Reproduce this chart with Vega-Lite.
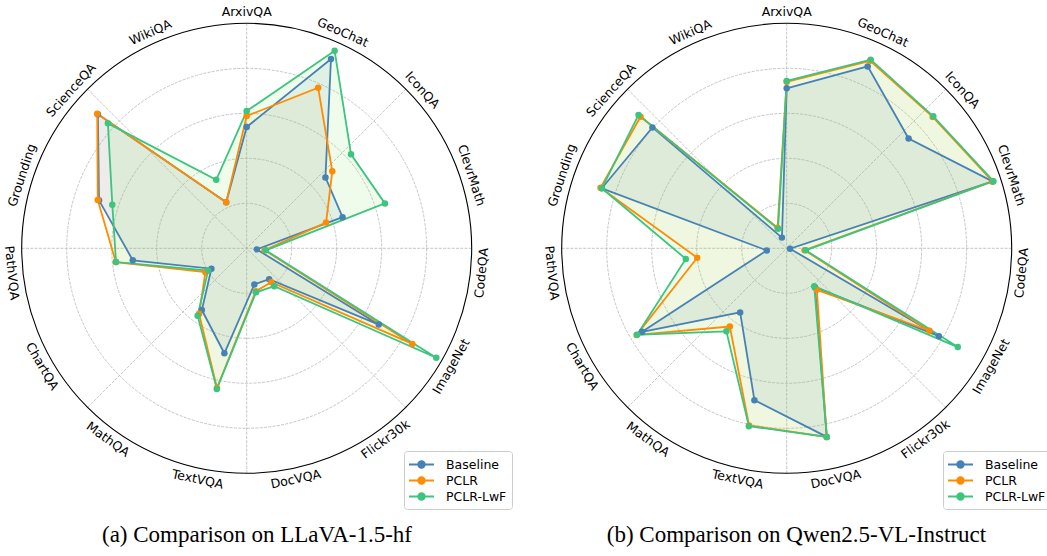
{
  "$schema": "https://vega.github.io/schema/vega-lite/v6.json",
  "background": "white",
  "padding": 0,
  "spacing": 0,
  "config": {"view": {"stroke": null}},
  "datasets": {
    "tasks": [
      {"task": "ArxivQA", "k": 0}, {"task": "GeoChat", "k": 1}, {"task": "IconQA", "k": 2},
      {"task": "ClevrMath", "k": 3}, {"task": "CodeQA", "k": 4}, {"task": "ImageNet", "k": 5},
      {"task": "Flickr30k", "k": 6}, {"task": "DocVQA", "k": 7}, {"task": "TextVQA", "k": 8},
      {"task": "MathQA", "k": 9}, {"task": "ChartQA", "k": 10}, {"task": "PathVQA", "k": 11},
      {"task": "Grounding", "k": 12}, {"task": "ScienceQA", "k": 13}, {"task": "WikiQA", "k": 14}
    ],
    "llava": [
      {"model": "Baseline", "task": "ArxivQA", "score": 0.539},
      {"model": "Baseline", "task": "GeoChat", "score": 0.921},
      {"model": "Baseline", "task": "IconQA", "score": 0.471},
      {"model": "Baseline", "task": "ClevrMath", "score": 0.448},
      {"model": "Baseline", "task": "CodeQA", "score": 0.045},
      {"model": "Baseline", "task": "ImageNet", "score": 0.678},
      {"model": "Baseline", "task": "Flickr30k", "score": 0.170},
      {"model": "Baseline", "task": "DocVQA", "score": 0.164},
      {"model": "Baseline", "task": "TextVQA", "score": 0.477},
      {"model": "Baseline", "task": "MathQA", "score": 0.339},
      {"model": "Baseline", "task": "ChartQA", "score": 0.181},
      {"model": "Baseline", "task": "PathVQA", "score": 0.509},
      {"model": "Baseline", "task": "Grounding", "score": 0.690},
      {"model": "Baseline", "task": "ScienceQA", "score": 0.890},
      {"model": "Baseline", "task": "WikiQA", "score": 0.224},
      {"model": "PCLR", "task": "ArxivQA", "score": 0.588},
      {"model": "PCLR", "task": "GeoChat", "score": 0.781},
      {"model": "PCLR", "task": "IconQA", "score": 0.512},
      {"model": "PCLR", "task": "ClevrMath", "score": 0.371},
      {"model": "PCLR", "task": "CodeQA", "score": 0.080},
      {"model": "PCLR", "task": "ImageNet", "score": 0.850},
      {"model": "PCLR", "task": "Flickr30k", "score": 0.186},
      {"model": "PCLR", "task": "DocVQA", "score": 0.195},
      {"model": "PCLR", "task": "TextVQA", "score": 0.635},
      {"model": "PCLR", "task": "MathQA", "score": 0.360},
      {"model": "PCLR", "task": "ChartQA", "score": 0.212},
      {"model": "PCLR", "task": "PathVQA", "score": 0.585},
      {"model": "PCLR", "task": "Grounding", "score": 0.696},
      {"model": "PCLR", "task": "ScienceQA", "score": 0.894},
      {"model": "PCLR", "task": "WikiQA", "score": 0.224},
      {"model": "PCLR-LwF", "task": "ArxivQA", "score": 0.610},
      {"model": "PCLR-LwF", "task": "GeoChat", "score": 0.961},
      {"model": "PCLR-LwF", "task": "IconQA", "score": 0.624},
      {"model": "PCLR-LwF", "task": "ClevrMath", "score": 0.646},
      {"model": "PCLR-LwF", "task": "CodeQA", "score": 0.085},
      {"model": "PCLR-LwF", "task": "ImageNet", "score": 0.973},
      {"model": "PCLR-LwF", "task": "Flickr30k", "score": 0.208},
      {"model": "PCLR-LwF", "task": "DocVQA", "score": 0.200},
      {"model": "PCLR-LwF", "task": "TextVQA", "score": 0.639},
      {"model": "PCLR-LwF", "task": "MathQA", "score": 0.371},
      {"model": "PCLR-LwF", "task": "ChartQA", "score": 0.198},
      {"model": "PCLR-LwF", "task": "PathVQA", "score": 0.584},
      {"model": "PCLR-LwF", "task": "Grounding", "score": 0.628},
      {"model": "PCLR-LwF", "task": "ScienceQA", "score": 0.830},
      {"model": "PCLR-LwF", "task": "WikiQA", "score": 0.333}
    ],
    "qwen": [
      {"model": "Baseline", "task": "ArxivQA", "score": 0.711},
      {"model": "Baseline", "task": "GeoChat", "score": 0.885},
      {"model": "Baseline", "task": "IconQA", "score": 0.729},
      {"model": "Baseline", "task": "ClevrMath", "score": 0.962},
      {"model": "Baseline", "task": "CodeQA", "score": 0.015},
      {"model": "Baseline", "task": "ImageNet", "score": 0.781},
      {"model": "Baseline", "task": "Flickr30k", "score": 0.215},
      {"model": "Baseline", "task": "DocVQA", "score": 0.857},
      {"model": "Baseline", "task": "TextVQA", "score": 0.690},
      {"model": "Baseline", "task": "MathQA", "score": 0.352},
      {"model": "Baseline", "task": "ChartQA", "score": 0.742},
      {"model": "Baseline", "task": "PathVQA", "score": 0.089},
      {"model": "Baseline", "task": "Grounding", "score": 0.864},
      {"model": "Baseline", "task": "ScienceQA", "score": 0.803},
      {"model": "Baseline", "task": "WikiQA", "score": 0.052},
      {"model": "PCLR", "task": "ArxivQA", "score": 0.740},
      {"model": "PCLR", "task": "GeoChat", "score": 0.912},
      {"model": "PCLR", "task": "IconQA", "score": 0.873},
      {"model": "PCLR", "task": "ClevrMath", "score": 0.962},
      {"model": "PCLR", "task": "CodeQA", "score": 0.080},
      {"model": "PCLR", "task": "ImageNet", "score": 0.733},
      {"model": "PCLR", "task": "Flickr30k", "score": 0.228},
      {"model": "PCLR", "task": "DocVQA", "score": 0.857},
      {"model": "PCLR", "task": "TextVQA", "score": 0.805},
      {"model": "PCLR", "task": "MathQA", "score": 0.430},
      {"model": "PCLR", "task": "ChartQA", "score": 0.770},
      {"model": "PCLR", "task": "PathVQA", "score": 0.400},
      {"model": "PCLR", "task": "Grounding", "score": 0.870},
      {"model": "PCLR", "task": "ScienceQA", "score": 0.874},
      {"model": "PCLR", "task": "WikiQA", "score": 0.100},
      {"model": "PCLR-LwF", "task": "ArxivQA", "score": 0.744},
      {"model": "PCLR-LwF", "task": "GeoChat", "score": 0.918},
      {"model": "PCLR-LwF", "task": "IconQA", "score": 0.877},
      {"model": "PCLR-LwF", "task": "ClevrMath", "score": 0.966},
      {"model": "PCLR-LwF", "task": "CodeQA", "score": 0.085},
      {"model": "PCLR-LwF", "task": "ImageNet", "score": 0.878},
      {"model": "PCLR-LwF", "task": "Flickr30k", "score": 0.208},
      {"model": "PCLR-LwF", "task": "DocVQA", "score": 0.857},
      {"model": "PCLR-LwF", "task": "TextVQA", "score": 0.808},
      {"model": "PCLR-LwF", "task": "MathQA", "score": 0.456},
      {"model": "PCLR-LwF", "task": "ChartQA", "score": 0.768},
      {"model": "PCLR-LwF", "task": "PathVQA", "score": 0.451},
      {"model": "PCLR-LwF", "task": "Grounding", "score": 0.864},
      {"model": "PCLR-LwF", "task": "ScienceQA", "score": 0.886},
      {"model": "PCLR-LwF", "task": "WikiQA", "score": 0.095}
    ]
  },
  "resolve": {"scale": {"color": "independent", "x": "independent", "y": "independent", "size": "independent"}, "legend": {"color": "independent"}},
  "hconcat": [
    {
      "width": 540, "height": 515,
      "title": {"text": "(a) Comparison on LLaVA-1.5-hf", "orient": "bottom", "offset": 9, "dx": -13, "font": "Liberation Serif", "fontSize": 23, "fontWeight": "normal", "color": "#000000"},
      "layer": [
        {"data": {"values": [{}]}, "mark": {"type": "rule", "color": "#b8b8b8", "strokeWidth": 0.8, "strokeDash": [3, 1.3]},
         "encoding": {"x": {"datum": 0, "type": "quantitative", "scale": {"domain": [-1.0964, 1.3036], "nice": false, "zero": false}, "axis": null},
                      "y": {"datum": -1, "type": "quantitative", "scale": {"domain": [-1.1853, 1.1036], "nice": false, "zero": false}, "axis": null},
                      "y2": {"datum": 1}}},
        {"data": {"values": [{}]}, "mark": {"type": "rule", "color": "#b8b8b8", "strokeWidth": 0.8, "strokeDash": [3, 1.3]},
         "encoding": {"x": {"datum": -1, "type": "quantitative", "scale": {"domain": [-1.0964, 1.3036], "nice": false, "zero": false}, "axis": null},
                      "x2": {"datum": 1},
                      "y": {"datum": 0, "type": "quantitative", "scale": {"domain": [-1.1853, 1.1036], "nice": false, "zero": false}, "axis": null}}},
        {"data": {"values": [{}]}, "mark": {"type": "rule", "color": "#b8b8b8", "strokeWidth": 0.8, "strokeDash": [3, 1.3]},
         "encoding": {"x": {"datum": -0.70711, "type": "quantitative", "scale": {"domain": [-1.0964, 1.3036], "nice": false, "zero": false}, "axis": null},
                      "x2": {"datum": 0.70711},
                      "y": {"datum": -0.70711, "type": "quantitative", "scale": {"domain": [-1.1853, 1.1036], "nice": false, "zero": false}, "axis": null},
                      "y2": {"datum": 0.70711}}},
        {"data": {"values": [{}]}, "mark": {"type": "rule", "color": "#b8b8b8", "strokeWidth": 0.8, "strokeDash": [3, 1.3]},
         "encoding": {"x": {"datum": -0.70711, "type": "quantitative", "scale": {"domain": [-1.0964, 1.3036], "nice": false, "zero": false}, "axis": null},
                      "x2": {"datum": 0.70711},
                      "y": {"datum": 0.70711, "type": "quantitative", "scale": {"domain": [-1.1853, 1.1036], "nice": false, "zero": false}, "axis": null},
                      "y2": {"datum": -0.70711}}},
        {"data": {"values": [{"ring": 0.2}, {"ring": 0.4}, {"ring": 0.6}, {"ring": 0.8}]},
         "mark": {"type": "point", "shape": "circle", "filled": false, "color": "#b8b8b8", "strokeWidth": 0.8, "strokeDash": [3, 1.3], "opacity": 1},
         "encoding": {"x": {"datum": 0, "type": "quantitative", "scale": {"domain": [-1.0964, 1.3036], "nice": false, "zero": false}, "axis": null},
                      "y": {"datum": 0, "type": "quantitative", "scale": {"domain": [-1.1853, 1.1036], "nice": false, "zero": false}, "axis": null},
                      "size": {"field": "ring", "type": "quantitative", "scale": {"type": "pow", "exponent": 2, "domain": [0, 1], "range": [0, 202500]}, "legend": null}}},
        {"data": {"values": [{"ring": 1}]},
         "mark": {"type": "point", "shape": "circle", "filled": false, "color": "#000000", "strokeWidth": 1.1, "opacity": 1},
         "encoding": {"x": {"datum": 0, "type": "quantitative", "scale": {"domain": [-1.0964, 1.3036], "nice": false, "zero": false}, "axis": null},
                      "y": {"datum": 0, "type": "quantitative", "scale": {"domain": [-1.1853, 1.1036], "nice": false, "zero": false}, "axis": null},
                      "size": {"field": "ring", "type": "quantitative", "scale": {"type": "pow", "exponent": 2, "domain": [0, 1], "range": [0, 202500]}, "legend": null}}},
        {"data": {"name": "llava"},
         "transform": [
           {"lookup": "task", "from": {"data": {"name": "tasks"}, "key": "task", "fields": ["k"]}},
           {"calculate": "datum.k * 2 * PI / 15", "as": "th"},
           {"calculate": "datum.score * sin(datum.th)", "as": "px"},
           {"calculate": "datum.score * cos(datum.th)", "as": "py"}
         ],
         "encoding": {
           "x": {"field": "px", "type": "quantitative", "scale": {"domain": [-1.0964, 1.3036], "nice": false, "zero": false}, "axis": null},
           "y": {"field": "py", "type": "quantitative", "scale": {"domain": [-1.1853, 1.1036], "nice": false, "zero": false}, "axis": null}
         },
         "layer": [
           {"transform": [{"filter": "datum.model == 'Baseline'"}],
            "mark": {"type": "line", "interpolate": "linear-closed", "fill": "#4682b4", "fillOpacity": 0.1, "strokeWidth": 0, "strokeOpacity": 0},
            "encoding": {"order": {"field": "k", "type": "quantitative"}}},
           {"transform": [{"filter": "datum.model == 'PCLR'"}],
            "mark": {"type": "line", "interpolate": "linear-closed", "fill": "#ff8c00", "fillOpacity": 0.05, "strokeWidth": 0, "strokeOpacity": 0},
            "encoding": {"order": {"field": "k", "type": "quantitative"}}},
           {"transform": [{"filter": "datum.model == 'PCLR-LwF'"}],
            "mark": {"type": "line", "interpolate": "linear-closed", "fill": "#96eb78", "fillOpacity": 0.15, "strokeWidth": 0, "strokeOpacity": 0},
            "encoding": {"order": {"field": "k", "type": "quantitative"}}},
           {"mark": {"type": "line", "interpolate": "linear-closed", "strokeWidth": 1.8},
            "encoding": {"order": {"field": "k", "type": "quantitative"},
                         "color": {"field": "model", "type": "nominal", "scale": {"domain": ["Baseline", "PCLR", "PCLR-LwF"], "range": ["#4682b4", "#ff8c00", "#3dc47e"]},
                                   "legend": {"title": null, "orient": "none", "legendX": 404, "legendY": 451, "direction": "vertical",
                                              "symbolType": "M-1.667,0H1.667M-0.44,0A0.44,0.44,0,1,0,0.44,0A0.44,0.44,0,1,0,-0.44,0Z", "symbolSize": 225, "symbolStrokeWidth": 1.8, "symbolOffset": 4,
                                              "labelFont": "DejaVu Sans", "labelFontSize": 12.5, "labelColor": "#000000", "labelOffset": 16,
                                              "fillColor": "white", "strokeColor": "#cccccc", "cornerRadius": 3, "padding": 5, "rowPadding": 0}}}},
           {"mark": {"type": "point", "shape": "circle", "filled": true, "size": 42, "opacity": 1},
            "encoding": {"color": {"field": "model", "type": "nominal", "scale": {"domain": ["Baseline", "PCLR", "PCLR-LwF"], "range": ["#4682b4", "#ff8c00", "#3dc47e"]}}}}
         ]},
        {"data": {"name": "tasks"},
         "transform": [
           {"calculate": "datum.k * 2 * PI / 15", "as": "th"},
           {"calculate": "1.05 * sin(datum.th)", "as": "lx"},
           {"calculate": "1.05 * cos(datum.th)", "as": "ly"},
           {"calculate": "datum.k * 24 > 90 && datum.k * 24 < 270 ? datum.k * 24 - 180 : datum.k * 24", "as": "rot"}
         ],
         "mark": {"type": "text", "font": "DejaVu Sans", "fontSize": 12.5, "color": "#000000", "align": "center", "baseline": "middle"},
         "encoding": {
           "x": {"field": "lx", "type": "quantitative", "scale": {"domain": [-1.0964, 1.3036], "nice": false, "zero": false}, "axis": null},
           "y": {"field": "ly", "type": "quantitative", "scale": {"domain": [-1.1853, 1.1036], "nice": false, "zero": false}, "axis": null},
           "text": {"field": "task"},
           "angle": {"field": "rot", "type": "quantitative", "scale": null}
         }}
      ]
    },
    {
      "width": 507, "height": 515,
      "title": {"text": "(b) Comparison on Qwen2.5-VL-Instruct", "orient": "bottom", "offset": 9, "dx": 3, "font": "Liberation Serif", "fontSize": 23, "fontWeight": "normal", "color": "#000000"},
      "layer": [
        {"data": {"values": [{}]}, "mark": {"type": "rule", "color": "#b8b8b8", "strokeWidth": 0.8, "strokeDash": [3, 1.3]},
         "encoding": {"x": {"datum": 0, "type": "quantitative", "scale": {"domain": [-1.0964, 1.1569], "nice": false, "zero": false}, "axis": null},
                      "y": {"datum": -1, "type": "quantitative", "scale": {"domain": [-1.1853, 1.1036], "nice": false, "zero": false}, "axis": null},
                      "y2": {"datum": 1}}},
        {"data": {"values": [{}]}, "mark": {"type": "rule", "color": "#b8b8b8", "strokeWidth": 0.8, "strokeDash": [3, 1.3]},
         "encoding": {"x": {"datum": -1, "type": "quantitative", "scale": {"domain": [-1.0964, 1.1569], "nice": false, "zero": false}, "axis": null},
                      "x2": {"datum": 1},
                      "y": {"datum": 0, "type": "quantitative", "scale": {"domain": [-1.1853, 1.1036], "nice": false, "zero": false}, "axis": null}}},
        {"data": {"values": [{}]}, "mark": {"type": "rule", "color": "#b8b8b8", "strokeWidth": 0.8, "strokeDash": [3, 1.3]},
         "encoding": {"x": {"datum": -0.70711, "type": "quantitative", "scale": {"domain": [-1.0964, 1.1569], "nice": false, "zero": false}, "axis": null},
                      "x2": {"datum": 0.70711},
                      "y": {"datum": -0.70711, "type": "quantitative", "scale": {"domain": [-1.1853, 1.1036], "nice": false, "zero": false}, "axis": null},
                      "y2": {"datum": 0.70711}}},
        {"data": {"values": [{}]}, "mark": {"type": "rule", "color": "#b8b8b8", "strokeWidth": 0.8, "strokeDash": [3, 1.3]},
         "encoding": {"x": {"datum": -0.70711, "type": "quantitative", "scale": {"domain": [-1.0964, 1.1569], "nice": false, "zero": false}, "axis": null},
                      "x2": {"datum": 0.70711},
                      "y": {"datum": 0.70711, "type": "quantitative", "scale": {"domain": [-1.1853, 1.1036], "nice": false, "zero": false}, "axis": null},
                      "y2": {"datum": -0.70711}}},
        {"data": {"values": [{"ring": 0.2}, {"ring": 0.4}, {"ring": 0.6}, {"ring": 0.8}]},
         "mark": {"type": "point", "shape": "circle", "filled": false, "color": "#b8b8b8", "strokeWidth": 0.8, "strokeDash": [3, 1.3], "opacity": 1},
         "encoding": {"x": {"datum": 0, "type": "quantitative", "scale": {"domain": [-1.0964, 1.1569], "nice": false, "zero": false}, "axis": null},
                      "y": {"datum": 0, "type": "quantitative", "scale": {"domain": [-1.1853, 1.1036], "nice": false, "zero": false}, "axis": null},
                      "size": {"field": "ring", "type": "quantitative", "scale": {"type": "pow", "exponent": 2, "domain": [0, 1], "range": [0, 202500]}, "legend": null}}},
        {"data": {"values": [{"ring": 1}]},
         "mark": {"type": "point", "shape": "circle", "filled": false, "color": "#000000", "strokeWidth": 1.1, "opacity": 1},
         "encoding": {"x": {"datum": 0, "type": "quantitative", "scale": {"domain": [-1.0964, 1.1569], "nice": false, "zero": false}, "axis": null},
                      "y": {"datum": 0, "type": "quantitative", "scale": {"domain": [-1.1853, 1.1036], "nice": false, "zero": false}, "axis": null},
                      "size": {"field": "ring", "type": "quantitative", "scale": {"type": "pow", "exponent": 2, "domain": [0, 1], "range": [0, 202500]}, "legend": null}}},
        {"data": {"name": "qwen"},
         "transform": [
           {"lookup": "task", "from": {"data": {"name": "tasks"}, "key": "task", "fields": ["k"]}},
           {"calculate": "datum.k * 2 * PI / 15", "as": "th"},
           {"calculate": "datum.score * sin(datum.th)", "as": "px"},
           {"calculate": "datum.score * cos(datum.th)", "as": "py"}
         ],
         "encoding": {
           "x": {"field": "px", "type": "quantitative", "scale": {"domain": [-1.0964, 1.1569], "nice": false, "zero": false}, "axis": null},
           "y": {"field": "py", "type": "quantitative", "scale": {"domain": [-1.1853, 1.1036], "nice": false, "zero": false}, "axis": null}
         },
         "layer": [
           {"transform": [{"filter": "datum.model == 'Baseline'"}],
            "mark": {"type": "line", "interpolate": "linear-closed", "fill": "#4682b4", "fillOpacity": 0.1, "strokeWidth": 0, "strokeOpacity": 0},
            "encoding": {"order": {"field": "k", "type": "quantitative"}}},
           {"transform": [{"filter": "datum.model == 'PCLR'"}],
            "mark": {"type": "line", "interpolate": "linear-closed", "fill": "#ff8c00", "fillOpacity": 0.05, "strokeWidth": 0, "strokeOpacity": 0},
            "encoding": {"order": {"field": "k", "type": "quantitative"}}},
           {"transform": [{"filter": "datum.model == 'PCLR-LwF'"}],
            "mark": {"type": "line", "interpolate": "linear-closed", "fill": "#96eb78", "fillOpacity": 0.15, "strokeWidth": 0, "strokeOpacity": 0},
            "encoding": {"order": {"field": "k", "type": "quantitative"}}},
           {"mark": {"type": "line", "interpolate": "linear-closed", "strokeWidth": 1.8},
            "encoding": {"order": {"field": "k", "type": "quantitative"},
                         "color": {"field": "model", "type": "nominal", "scale": {"domain": ["Baseline", "PCLR", "PCLR-LwF"], "range": ["#4682b4", "#ff8c00", "#3dc47e"]},
                                   "legend": {"title": null, "orient": "none", "legendX": 403, "legendY": 451, "direction": "vertical",
                                              "symbolType": "M-1.667,0H1.667M-0.44,0A0.44,0.44,0,1,0,0.44,0A0.44,0.44,0,1,0,-0.44,0Z", "symbolSize": 225, "symbolStrokeWidth": 1.8, "symbolOffset": 4,
                                              "labelFont": "DejaVu Sans", "labelFontSize": 12.5, "labelColor": "#000000", "labelOffset": 16,
                                              "fillColor": "white", "strokeColor": "#cccccc", "cornerRadius": 3, "padding": 5, "rowPadding": 0}}}},
           {"mark": {"type": "point", "shape": "circle", "filled": true, "size": 42, "opacity": 1},
            "encoding": {"color": {"field": "model", "type": "nominal", "scale": {"domain": ["Baseline", "PCLR", "PCLR-LwF"], "range": ["#4682b4", "#ff8c00", "#3dc47e"]}}}}
         ]},
        {"data": {"name": "tasks"},
         "transform": [
           {"calculate": "datum.k * 2 * PI / 15", "as": "th"},
           {"calculate": "1.05 * sin(datum.th)", "as": "lx"},
           {"calculate": "1.05 * cos(datum.th)", "as": "ly"},
           {"calculate": "datum.k * 24 > 90 && datum.k * 24 < 270 ? datum.k * 24 - 180 : datum.k * 24", "as": "rot"}
         ],
         "mark": {"type": "text", "font": "DejaVu Sans", "fontSize": 12.5, "color": "#000000", "align": "center", "baseline": "middle"},
         "encoding": {
           "x": {"field": "lx", "type": "quantitative", "scale": {"domain": [-1.0964, 1.1569], "nice": false, "zero": false}, "axis": null},
           "y": {"field": "ly", "type": "quantitative", "scale": {"domain": [-1.1853, 1.1036], "nice": false, "zero": false}, "axis": null},
           "text": {"field": "task"},
           "angle": {"field": "rot", "type": "quantitative", "scale": null}
         }}
      ]
    }
  ]
}
